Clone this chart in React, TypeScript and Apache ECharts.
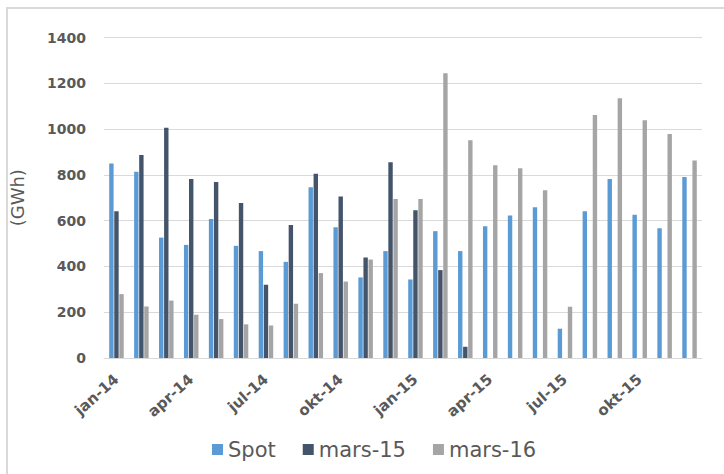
import React, { useEffect, useRef } from "react";
import * as echarts from "echarts";

const categories = [
  "jan-14", "feb-14", "mar-14", "apr-14", "mai-14", "jun-14",
  "jul-14", "aug-14", "sep-14", "okt-14", "nov-14", "des-14",
  "jan-15", "feb-15", "mar-15", "apr-15", "mai-15", "jun-15",
  "jul-15", "aug-15", "sep-15", "okt-15", "nov-15", "des-15",
];

const spot = [850, 814, 526, 494, 607, 490, 467, 420, 746, 571, 352, 467, 343, 554, 467, 576, 622, 659, 128, 641, 782, 626, 567, 791];
const mars15 = [641, 887, 1006, 782, 769, 677, 320, 581, 805, 705, 439, 855, 645, 384, 49, null, null, null, null, null, null, null, null, null];
const mars16 = [279, 225, 251, 189, 170, 147, 142, 237, 371, 334, 430, 695, 695, 1244, 951, 842, 829, 733, 224, 1061, 1135, 1039, 978, 863];

const seriesNames = ["Spot", "mars-15", "mars-16"];
const yTicks = { min: 0, max: 1400, interval: 200 };
const yName = "(GWh)";

export default function App() {
  const ref = useRef<HTMLDivElement>(null);
  useEffect(() => {
    document.body.style.margin = "0";
    const chart = echarts.init(ref.current!, null, { renderer: "svg" });
    const labelColor = "#595959";
    const colors = ["#5b9bd5", "#44546a", "#a5a5a5"];
    const data = [spot, mars15, mars16];
    chart.setOption({
      animation: false,
      backgroundColor: "#ffffff",
      grid: { left: 103, right: 22, top: 37.5, bottom: 116 },
      legend: {
        left: 207,
        top: 434,
        itemWidth: 11,
        itemHeight: 11,
        itemGap: 27,
        icon: "rect",
        textStyle: { fontFamily: "DejaVu Sans", fontSize: 21, color: labelColor },
        data: seriesNames,
      },
      xAxis: {
        type: "category",
        data: categories,
        axisLine: { lineStyle: { color: "#d9d9d9", width: 1 } },
        axisTick: { show: false },
        axisLabel: {
          interval: 2,
          rotate: 42,
          margin: 19,
          color: labelColor,
          fontFamily: "DejaVu Sans",
          fontWeight: "bold",
          fontSize: 15,
        },
      },
      yAxis: {
        type: "value",
        min: yTicks.min,
        max: yTicks.max,
        interval: yTicks.interval,
        name: yName,
        nameLocation: "middle",
        nameRotate: 90,
        nameGap: 78,
        nameTextStyle: { fontFamily: "DejaVu Sans", fontSize: 18, color: labelColor },
        axisLine: { show: false },
        axisTick: { show: false },
        splitLine: { lineStyle: { color: "#d9d9d9", width: 1 } },
        axisLabel: {
          margin: 18,
          color: labelColor,
          fontFamily: "DejaVu Sans",
          fontWeight: "bold",
          fontSize: 14,
          formatter: (v: number) => String(v),
        },
      },
      series: seriesNames.map((name, i) => ({
        name,
        type: "bar",
        data: data[i],
        barWidth: 4.4,
        barGap: "15%",
        itemStyle: { color: colors[i] },
      })),
      graphic: [
        {
          type: "polyline",
          shape: { points: [[7, 474], [7, 8], [724, 8]] },
          style: { stroke: "#d9d9d9", lineWidth: 2, fill: "none" },
          silent: true,
        },
      ],
    });
    return () => chart.dispose();
  }, []);
  return <div ref={ref} style={{ width: 724, height: 474 }} />;
}
